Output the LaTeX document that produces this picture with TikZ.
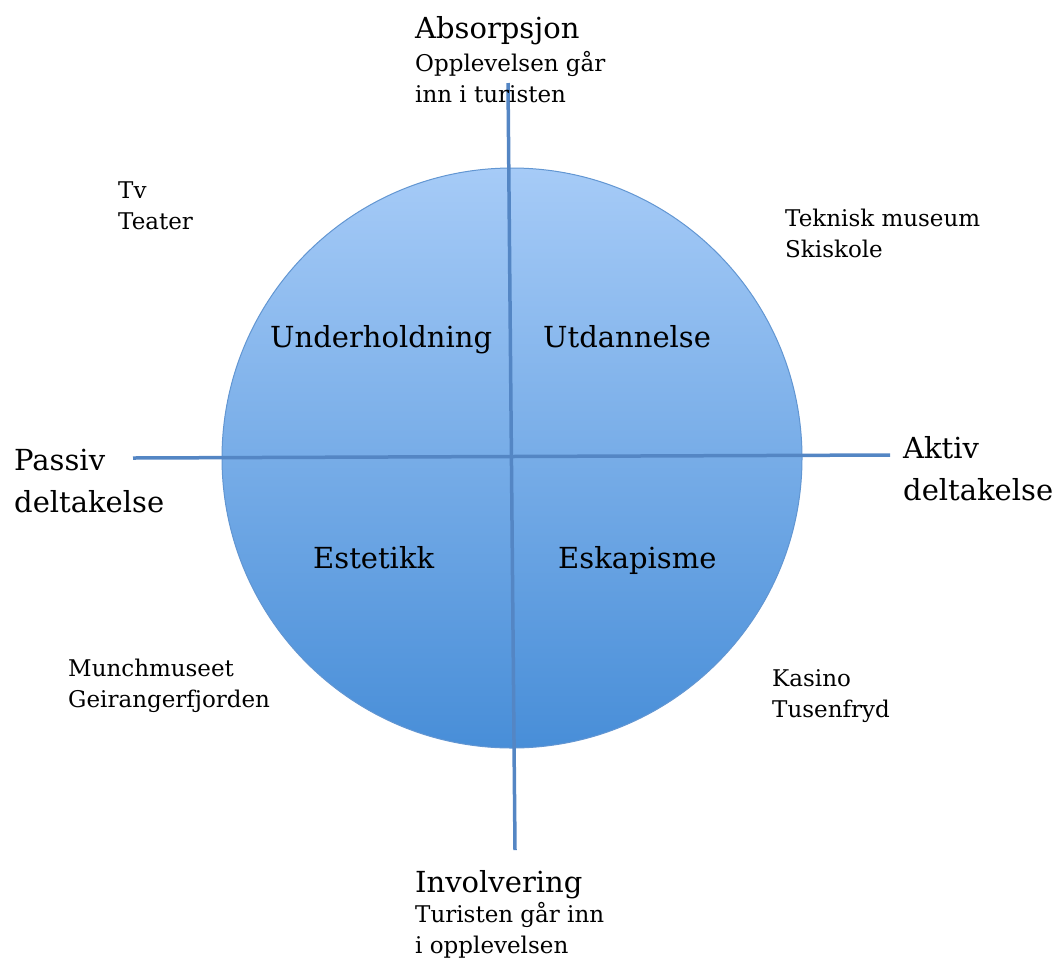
\documentclass[tikz,border=0pt]{standalone}
\usepackage{fontspec}
\setmainfont{DejaVu Serif}
\usetikzlibrary{positioning}
\definecolor{DiscTop}{RGB}{166,203,247}
\definecolor{DiscBottom}{RGB}{72,142,216}
\definecolor{DiscEdge}{RGB}{98,150,210}
\definecolor{AxisBlue}{RGB}{84,134,196}

\begin{document}
\begin{tikzpicture}[x=1pt, y=-1pt]
  \tikzset{
    disc/.style={circle, minimum size=580pt, inner sep=0pt, draw=DiscEdge, line width=1pt, top color=DiscTop, bottom color=DiscBottom},
    axis/.style={draw=AxisBlue, line width=3.5pt},
    pole/.style={anchor=base west, inner sep=0pt, align=left, font=\fontsize{29}{42}\selectfont},
    quad/.style={anchor=base west, inner sep=0pt, font=\fontsize{29}{35}\selectfont},
    example/.style={anchor=base west, inner sep=0pt, align=left, font=\fontsize{23}{31}\selectfont}
  }
  \useasboundingbox (0,0) rectangle (1059,962);

  \node[disc] (disc) at (512,458) {};

  % axis ends
  \coordinate (absEnd) at (508,83);
  \coordinate (invEnd) at (515,850);
  \coordinate (pasEnd) at (133,458);
  \coordinate (aktEnd) at (890,455);
  \draw[axis] (absEnd) -- (invEnd);
  \draw[axis] (pasEnd) -- (aktEnd);

  % poles (base = last line)
  \node[pole] (absorp) at (415,38) {Absorpsjon};
  \node[example] (absorpnote) at (415,102) {Opplevelsen går\\inn i turisten};
  \node[pole] (involv) at (415,892) {Involvering};
  \node[example] (involvnote) at (415,953) {Turisten går inn\\i opplevelsen};
  \node[pole] (passiv) at (14,512) {Passiv\\deltakelse};
  \node[pole] (aktiv) at (903,500) {Aktiv\\deltakelse};

  % quadrants
  \node[quad] (underh) at (270,347) {Underholdning};
  \node[quad] (utdann) at (543,347) {Utdannelse};
  \node[quad] (estet) at (313,568) {Estetikk};
  \node[quad] (eskap) at (558,568) {Eskapisme};

  % examples
  \node[example] (tvteater) at (118,229) {Tv\\Teater};
  \node[example] (teknisk) at (785,257) {Teknisk museum\\Skiskole};
  \node[example] (munch) at (68,707) {Munchmuseet\\Geirangerfjorden};
  \node[example] (kasino) at (772,717) {Kasino\\Tusenfryd};
\end{tikzpicture}
\end{document}
